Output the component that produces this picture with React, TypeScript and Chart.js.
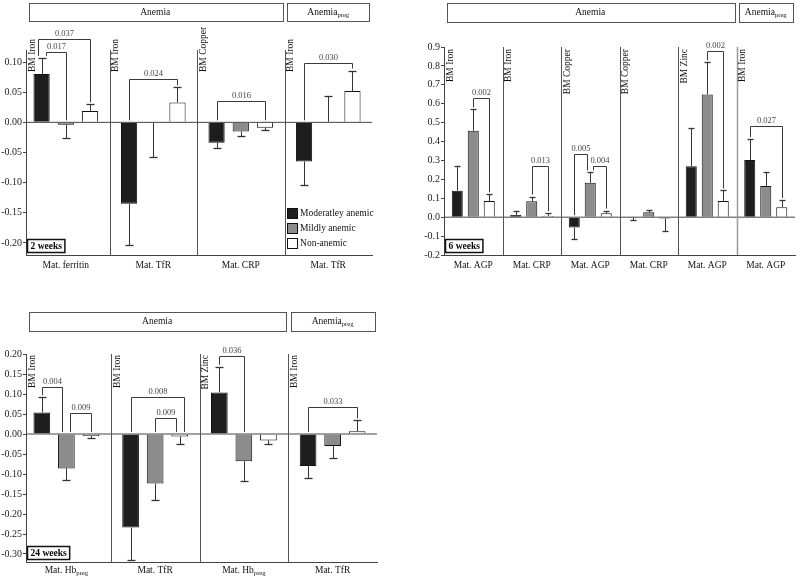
import React, { useEffect, useRef } from "react";
import { Chart, registerables } from "chart.js";

Chart.register(...registerables);

const FONT = '"Liberation Serif", "Times New Roman", serif';

// ---------- shared ----------
const seriesNames = ["Moderatley anemic", "Mildly anemic", "Non-anemic"];
const seriesFill = ["#1e1e1e", "#8c8c8c", "#ffffff"];

// ---------- Panel A: 2 weeks ----------
const catsA = ["Mat. ferritin", "Mat. TfR", "Mat. CRP", "Mat. TfR"];
const bmA = ["BM Iron", "BM Iron", "BM Copper", "BM Iron"];
const modA = [0.080, -0.135, -0.034, -0.065];
const mildA = [-0.004, -0.001, -0.015, 0.001];
const nonA = [0.019, 0.033, -0.009, 0.052];
const modErrA = [0.027, 0.069, 0.009, 0.039];
const mildErrA = [0.022, 0.057, 0.007, 0.043];
const nonErrA = [0.011, 0.025, 0.004, 0.034];
const ticksA = [0.1, 0.05, 0, -0.05, -0.1, -0.15, -0.2];
const bracketsA = [
  { g: 0, a: 0, b: 2, y: 0.138, p: "0.037" },
  { g: 0, a: 0, b: 1, y: 0.117, p: "0.017" },
  { g: 1, a: 0, b: 2, y: 0.072, p: "0.024" },
  { g: 2, a: 0, b: 2, y: 0.035, p: "0.016" },
  { g: 3, a: 0, b: 2, y: 0.098, p: "0.030" },
];

// ---------- Panel B: 6 weeks ----------
const catsB = ["Mat. AGP", "Mat. CRP", "Mat. AGP", "Mat. CRP", "Mat. AGP", "Mat. AGP"];
const bmB = ["BM Iron", "BM Iron", "BM Copper", "BM Copper", "BM Zinc", "BM Iron"];
const modB = [0.14, 0.012, -0.055, -0.002, 0.27, 0.302];
const mildB = [0.457, 0.084, 0.182, 0.026, 0.649, 0.165];
const nonB = [0.086, 0.007, 0.021, -0.007, 0.086, 0.053];
const modErrB = [0.132, 0.023, 0.059, 0.012, 0.201, 0.111];
const mildErrB = [0.113, 0.025, 0.055, 0.012, 0.17, 0.075];
const nonErrB = [0.035, 0.014, 0.014, 0.064, 0.056, 0.037];
const ticksB = [0.9, 0.8, 0.7, 0.6, 0.5, 0.4, 0.3, 0.2, 0.1, 0, -0.1, -0.2];
const bracketsB = [
  { g: 0, a: 1, b: 2, y: 0.631, p: "0.002" },
  { g: 1, a: 1, b: 2, y: 0.271, p: "0.013" },
  { g: 2, a: 0, b: 1, y: 0.334, p: "0.005" },
  { g: 2, a: 1, b: 2, y: 0.272, p: "0.004" },
  { g: 4, a: 1, b: 2, y: 0.877, p: "0.002" },
  { g: 5, a: 0, b: 2, y: 0.483, p: "0.027" },
];

// ---------- Panel C: 24 weeks ----------
const catsC = ["Mat. Hb_{preg}", "Mat. TfR", "Mat. Hb_{preg}", "Mat. TfR"];
const bmC = ["BM Iron", "BM Iron", "BM Zinc", "BM Iron"];
const modC = [0.054, -0.234, 0.104, -0.08];
const mildC = [-0.086, -0.124, -0.068, -0.03];
const nonC = [-0.005, -0.006, -0.016, 0.007];
const modErrC = [0.038, 0.081, 0.064, 0.031];
const mildErrC = [0.029, 0.041, 0.05, 0.03];
const nonErrC = [0.006, 0.019, 0.01, 0.027];
const ticksC = [0.2, 0.15, 0.1, 0.05, 0, -0.05, -0.1, -0.15, -0.2, -0.25, -0.3];
const bracketsC = [
  { g: 0, a: 0, b: 1, y: 0.117, p: "0.004" },
  { g: 0, a: 1, b: 2, y: 0.053, p: "0.009" },
  { g: 1, a: 0, b: 2, y: 0.092, p: "0.008" },
  { g: 1, a: 1, b: 2, y: 0.039, p: "0.009" },
  { g: 2, a: 0, b: 1, y: 0.196, p: "0.036" },
  { g: 3, a: 0, b: 2, y: 0.067, p: "0.033" },
];

type Bracket = { g: number; a: number; b: number; y: number; p: string };
type Header = { text: string; from: number; to: number };

interface Spec {
  cats: string[];
  bm: string[];
  vals: number[][];
  errs: number[][];
  ticks: number[];
  dec: number;
  min: number;
  max: number;
  xMin: number;
  xMax: number;
  brackets: Bracket[];
  headers: Header[];
  week: string;
  legend: boolean;
  left: number;
  top: number;
  w: number;
  h: number;
  padTop: number;
  padRight: number;
  yw: number;
  xh: number;
  headerY: [number, number];
  bmAnchor: "top" | "bottom";
  bmDy: number;
  catDy: number;
  catPct: number;
  barPct: number;
  cap: number;
  legOff: number;
  lightSep: number;
}

function parseRich(text: string) {
  const parts: { t: string; sub: boolean }[] = [];
  const re = /_\{([^}]*)\}/g;
  let last = 0;
  let m: RegExpExecArray | null;
  while ((m = re.exec(text))) {
    if (m.index > last) parts.push({ t: text.slice(last, m.index), sub: false });
    parts.push({ t: m[1], sub: true });
    last = m.index + m[0].length;
  }
  if (last < text.length) parts.push({ t: text.slice(last), sub: false });
  return parts;
}

function drawRich(ctx: CanvasRenderingContext2D, text: string, cx: number, cy: number, size: number, color: string) {
  const parts = parseRich(text);
  const subSize = size * 0.7;
  let total = 0;
  const widths = parts.map((p) => {
    ctx.font = `${p.sub ? subSize : size}px ${FONT}`;
    const w = ctx.measureText(p.t).width;
    total += w;
    return w;
  });
  let x = cx - total / 2;
  ctx.fillStyle = color;
  ctx.textAlign = "left";
  ctx.textBaseline = "middle";
  parts.forEach((p, i) => {
    ctx.font = `${p.sub ? subSize : size}px ${FONT}`;
    ctx.fillText(p.t, x, p.sub ? cy + size * 0.32 : cy);
    x += widths[i];
  });
}

function makeDecor(spec: Spec) {
  return {
    id: "decor",
    afterDatasetsDraw(chart: any) {
      const { ctx, chartArea: ca } = chart;
      const xs = chart.scales.x;
      const ys = chart.scales.y;
      const n = spec.cats.length;
      const boundary = (i: number) => {
        if (i <= 0) return ca.left;
        if (i >= n) return ca.right;
        return xs.getPixelForValue(i - 0.5);
      };
      const line = (pts: number[][], color: string, lw: number) => {
        ctx.save();
        ctx.strokeStyle = color;
        ctx.lineWidth = lw;
        ctx.beginPath();
        pts.forEach((p, k) => (k === 0 ? ctx.moveTo(p[0], p[1]) : ctx.lineTo(p[0], p[1])));
        ctx.stroke();
        ctx.restore();
      };
      // zero line
      const y0 = ys.getPixelForValue(0);
      line([[ca.left, y0], [ca.right, y0]], "#444", 1);

      // separators
      for (let i = 1; i < n; i++) {
        const bx = Math.round(boundary(i)) + 0.5;
        const light = i === spec.lightSep;
        line([[bx, ca.top], [bx, ca.bottom]], light ? "#9a9a9a" : "#555", light ? 1.5 : 1);
      }

      // error bars
      const barX = (d: number, g: number) => chart.getDatasetMeta(d).data[g].x;
      spec.vals.forEach((vals, d) => {
        vals.forEach((v, g) => {
          const e = spec.errs[d][g];
          const s = v >= 0 ? 1 : -1;
          const cx = Math.round(barX(d, g)) + 0.5;
          const yv = ys.getPixelForValue(v);
          const ye = Math.round(ys.getPixelForValue(v + s * e)) + 0.5;
          line([[cx, yv], [cx, ye]], "#333", 1);
          line([[cx - spec.cap / 2, ye], [cx + spec.cap / 2, ye]], "#333", 1.3);
        });
      });

      // brackets
      const legBottom = (d: number, g: number) => {
        const v = spec.vals[d][g];
        const e = spec.errs[d][g];
        const top = v > 0 ? v + e : 0;
        return ys.getPixelForValue(top) - 2;
      };
      spec.brackets.forEach((br) => {
        const span = br.b - br.a;
        let offA = 0;
        let offB = 0;
        spec.brackets.forEach((o) => {
          if (o === br || o.g !== br.g) return;
          const os = o.b - o.a;
          if (o.a === br.a || o.b === br.a) offA = span > os ? -spec.legOff : spec.legOff;
          if (o.a === br.b || o.b === br.b) offB = span > os ? spec.legOff : -spec.legOff;
        });
        const xa = Math.round(barX(br.a, br.g) + offA) + 0.5;
        const xb = Math.round(barX(br.b, br.g) + offB) + 0.5;
        const yt = Math.round(ys.getPixelForValue(br.y)) + 0.5;
        line(
          [
            [xa, legBottom(br.a, br.g)],
            [xa, yt],
            [xb, yt],
            [xb, legBottom(br.b, br.g)],
          ],
          "#3a3a3a",
          1
        );
        ctx.save();
        ctx.font = `8.5px ${FONT}`;
        ctx.fillStyle = "#444";
        ctx.textAlign = "center";
        ctx.textBaseline = "bottom";
        ctx.fillText(br.p, (xa + xb) / 2, yt - 1);
        ctx.restore();
      });

      // BM labels (rotated)
      spec.bm.forEach((t, i) => {
        const bx = boundary(i);
        ctx.save();
        ctx.translate(bx + 1.5, ca.top + spec.bmDy);
        ctx.rotate(-Math.PI / 2);
        ctx.font = `9.5px ${FONT}`;
        ctx.fillStyle = "#111";
        ctx.textBaseline = "top";
        ctx.textAlign = spec.bmAnchor === "bottom" ? "left" : "right";
        ctx.fillText(t, 0, 0);
        ctx.restore();
      });

      // header boxes
      spec.headers.forEach((hd) => {
        const x1 = boundary(hd.from) + 2.5;
        const x2 = boundary(hd.to + 1) - 2.5;
        const [ya, yb] = spec.headerY;
        ctx.save();
        ctx.strokeStyle = "#555";
        ctx.lineWidth = 1;
        ctx.strokeRect(Math.round(x1) + 0.5, ya + 0.5, Math.round(x2 - x1), yb - ya);
        ctx.restore();
        drawRich(ctx, hd.text, (x1 + x2) / 2, (ya + yb) / 2, 9.5, "#111");
      });

      // category labels
      spec.cats.forEach((c, i) => {
        drawRich(ctx, c, xs.getPixelForValue(i), ca.bottom + spec.catDy, 9.5, "#111");
      });

      // week box
      ctx.save();
      ctx.font = `bold 9.5px ${FONT}`;
      const ww = ctx.measureText(spec.week).width;
      const bx0 = ca.left + 1.5;
      const by0 = ca.bottom - 15.5;
      ctx.fillStyle = "#fff";
      ctx.fillRect(bx0, by0, ww + 6, 13);
      ctx.strokeStyle = "#111";
      ctx.lineWidth = 1.5;
      ctx.strokeRect(bx0, by0, ww + 6, 13);
      ctx.fillStyle = "#000";
      ctx.textAlign = "left";
      ctx.textBaseline = "middle";
      ctx.fillText(spec.week, bx0 + 3, by0 + 7);
      ctx.restore();

      // legend
      if (spec.legend) {
        const lx = boundary(n - 1) + 2.5;
        seriesNames.forEach((name, k) => {
          const cy = ca.bottom - 42 + k * 15;
          ctx.save();
          ctx.fillStyle = seriesFill[k];
          ctx.fillRect(lx, cy - 5, 10, 10);
          ctx.strokeStyle = "#111";
          ctx.lineWidth = 1;
          ctx.strokeRect(lx + 0.5, cy - 4.5, 10, 10);
          ctx.font = `9.5px ${FONT}`;
          ctx.fillStyle = "#111";
          ctx.textAlign = "left";
          ctx.textBaseline = "middle";
          ctx.fillText(name, lx + 13, cy);
          ctx.restore();
        });
      }
    },
  };
}

const specA: Spec = {
  cats: catsA,
  bm: bmA,
  vals: [modA, mildA, nonA],
  errs: [modErrA, mildErrA, nonErrA],
  ticks: ticksA,
  dec: 2,
  min: -0.22,
  max: 0.12,
  xMin: -0.455,
  xMax: 3.5,
  brackets: bracketsA,
  headers: [
    { text: "Anemia", from: 0, to: 2 },
    { text: "Anemia_{preg}", from: 3, to: 3 },
  ],
  week: "2 weeks",
  legend: true,
  left: 0,
  top: 0,
  w: 400,
  h: 290,
  padTop: 50,
  padRight: 28,
  yw: 26,
  xh: 35,
  headerY: [3, 21],
  bmAnchor: "bottom",
  bmDy: 22,
  catDy: 10,
  catPct: 0.83,
  barPct: 0.67,
  cap: 8,
  legOff: 4,
  lightSep: -1,
};

const specB: Spec = {
  cats: catsB,
  bm: bmB,
  vals: [modB, mildB, nonB],
  errs: [modErrB, mildErrB, nonErrB],
  ticks: ticksB,
  dec: 1,
  min: -0.2,
  max: 0.9,
  xMin: -0.5,
  xMax: 5.5,
  brackets: bracketsB,
  headers: [
    { text: "Anemia", from: 0, to: 4 },
    { text: "Anemia_{preg}", from: 5, to: 5 },
  ],
  week: "6 weeks",
  legend: false,
  left: 400,
  top: 0,
  w: 400,
  h: 300,
  padTop: 47,
  padRight: 5,
  yw: 44,
  xh: 45,
  headerY: [3, 22],
  bmAnchor: "top",
  bmDy: 2,
  catDy: 10,
  catPct: 0.82,
  barPct: 0.69,
  cap: 6,
  legOff: 3,
  lightSep: 5,
};

const specC: Spec = {
  cats: catsC,
  bm: bmC,
  vals: [modC, mildC, nonC],
  errs: [modErrC, mildErrC, nonErrC],
  ticks: ticksC,
  dec: 2,
  min: -0.32,
  max: 0.2,
  xMin: -0.455,
  xMax: 3.5,
  brackets: bracketsC,
  headers: [
    { text: "Anemia", from: 0, to: 2 },
    { text: "Anemia_{preg}", from: 3, to: 3 },
  ],
  week: "24 weeks",
  legend: false,
  left: 0,
  top: 300,
  w: 400,
  h: 279,
  padTop: 54,
  padRight: 23,
  yw: 26,
  xh: 17,
  headerY: [12, 31],
  bmAnchor: "top",
  bmDy: 1,
  catDy: 8,
  catPct: 0.83,
  barPct: 0.68,
  cap: 8,
  legOff: 4,
  lightSep: -1,
};

function Panel({ spec }: { spec: Spec }) {
  const ref = useRef<HTMLCanvasElement | null>(null);
  useEffect(() => {
    if (!ref.current) return;
    const chart = new Chart(ref.current, {
      type: "bar",
      data: {
        datasets: spec.vals.map((v, d) => ({
          label: seriesNames[d],
          data: v.map((y, i) => ({ x: i, y })),
          backgroundColor: seriesFill[d],
          borderColor: "#111",
          borderWidth: 1,
          categoryPercentage: spec.catPct,
          barPercentage: spec.barPct,
        })),
      },
      options: {
        responsive: false,
        animation: false,
        layout: { padding: { top: spec.padTop, right: spec.padRight, left: 0, bottom: 0 } },
        plugins: { legend: { display: false }, tooltip: { enabled: false } },
        scales: {
          x: {
            type: "linear",
            min: spec.xMin,
            max: spec.xMax,
            offset: false,
            grid: { display: false },
            border: { display: true, color: "#444", width: 1 },
            ticks: { display: false },
            afterBuildTicks: (s: any) => {
              s.ticks = spec.cats.map((_, i) => ({ value: i }));
            },
            afterFit: (s: any) => {
              s.height = spec.xh;
            },
          },
          y: {
            min: spec.min,
            max: spec.max,
            grid: { drawOnChartArea: false, drawTicks: true, tickLength: 3, color: "#444" },
            border: { display: true, color: "#444", width: 1 },
            ticks: {
              font: { family: FONT, size: 10 },
              color: "#222",
              padding: 1,
              callback: (v: any) => Number(v).toFixed(spec.dec),
            },
            afterBuildTicks: (s: any) => {
              s.ticks = spec.ticks.map((value) => ({ value }));
            },
            afterFit: (s: any) => {
              s.width = spec.yw;
            },
          },
        },
      } as any,
      plugins: [makeDecor(spec)],
    });
    return () => chart.destroy();
  }, [spec]);
  return (
    <canvas
      ref={ref}
      width={spec.w}
      height={spec.h}
      style={{ position: "absolute", left: spec.left, top: spec.top, width: spec.w, height: spec.h }}
    />
  );
}

export default function App() {
  return (
    <div style={{ position: "absolute", left: 0, top: 0, width: 800, height: 579, background: "#fff" }}>
      <Panel spec={specA} />
      <Panel spec={specB} />
      <Panel spec={specC} />
    </div>
  );
}
